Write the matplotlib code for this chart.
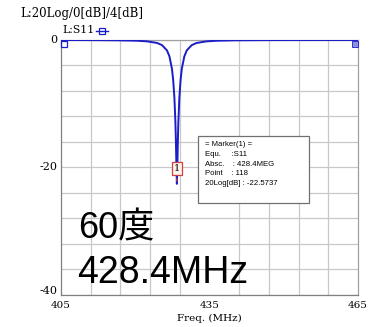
import matplotlib.pyplot as plt
from matplotlib.patches import FancyBboxPatch

# S11 trace (MHz, dB)
freq = [405, 410, 416.4, 420.4, 422.4, 424.4, 425.4, 426.4, 426.9, 427.4, 427.65,
        427.9, 428.1, 428.2, 428.3, 428.4, 428.5, 428.6, 428.7, 428.9, 429.15,
        429.4, 429.9, 430.4, 431.4, 432.4, 434.4, 436.4, 440.4, 448.4, 465]
s11_db = [-0.01, -0.02, -0.055, -0.12, -0.22, -0.47, -0.81, -1.64, -2.59, -4.5, -6.25,
          -9.07, -12.87, -15.77, -19.67, -22.57, -19.67, -15.77, -12.87, -9.07, -6.25,
          -4.5, -2.59, -1.64, -0.81, -0.47, -0.22, -0.12, -0.055, -0.02, -0.01]

mk_freq = 428.4
mk_db = -22.5737
mk_lines = ['= Marker(1) =', 'Equ.     :S11', 'Absc.    : 428.4MEG',
            'Point    : 118', '20Log[dB] : -22.5737']

xticks = [405, 435, 465]
yticks = [0, -20, -40]

serif = ['DejaVu Serif']
big = ['Liberation Sans', 'Noto Sans CJK JP']

fig = plt.figure(figsize=(3.7, 3.27), dpi=100)
ax = fig.add_axes([0.165, 0.098, 0.8027, 0.7798])

ax.plot(freq, s11_db, color='#1c1cc8', lw=1.4, zorder=3)
ax.set_xlim(405, 465)
ax.set_ylim(-40, 0)

# grid: 6 MHz / 4 dB per division
ax.set_xticks([405 + 6 * i for i in range(11)], minor=True)
ax.set_yticks([-4 * i for i in range(11)], minor=True)
ax.grid(which='minor', color='#c8c8c8', lw=0.9)
ax.set_xticks(xticks)
ax.set_xticklabels([str(v) for v in xticks], fontfamily=serif, fontsize=7.5)
ax.set_yticks([])
ax.tick_params(which='both', length=0)
ax.tick_params(axis='x', pad=4)
for s in ax.spines.values():
    s.set_color('#a0a0a0')
    s.set_linewidth(0.9)
ax.spines['left'].set_color('#808080')
ax.spines['bottom'].set_color('#808080')
ax.set_xlabel('Freq. (MHz)', fontfamily=serif, fontsize=7.5, labelpad=3)

# y labels drawn by hand (the bottom one sits a bit above the axis)
ylab_pos = [0, -20, -39.4]
for v, p in zip(yticks, ylab_pos):
    ax.text(-0.012, p, str(v), transform=ax.get_yaxis_transform(), ha='right',
            va='center', fontfamily=serif, fontsize=8)

# corner markers
ax.plot([405.6], [-0.6], marker='s', ms=4, mfc='none', mec='#1c1cc8', mew=0.9,
        clip_on=False, zorder=4)
ax.plot([464.4], [-0.6], marker='s', ms=4, mfc='#9090e0', mec='#1c1cc8', mew=0.6,
        clip_on=False, zorder=4)

# header texts
fig.text(20 / 370, 1 - 13 / 327, 'L:20Log/0[dB]/4[dB]', fontfamily=serif,
         fontsize=8.5, va='center')
fig.text(62 / 370, 1 - 30 / 327, 'L:S11', fontfamily=serif, fontsize=7.8, va='center')
fig.add_artist(plt.Line2D([96 / 370, 108 / 370], [1 - 31 / 327] * 2, color='#1c1cc8', lw=1))
fig.add_artist(plt.Rectangle((99 / 370, 1 - 34 / 327), 6 / 370, 6 / 327,
                             fill=False, ec='#1c1cc8', lw=0.9))

# marker 1 flag
ax.annotate('1', xy=(mk_freq, mk_db), xytext=(mk_freq, -20.2), ha='center', va='center',
            fontsize=7, fontfamily=serif,
            bbox=dict(boxstyle='square,pad=0.2', fc='#fff4ec', ec='#d04040', lw=0.9),
            arrowprops=dict(arrowstyle='-', color='#d04040', lw=0.9), zorder=5)

# marker info box
box = FancyBboxPatch((198 / 370, 1 - 203 / 327), 111 / 370, 67 / 327,
                     boxstyle='square,pad=0', transform=fig.transFigure,
                     fc='white', ec='#707070', lw=0.9, zorder=6)
fig.add_artist(box)
for i, t in enumerate(mk_lines):
    fig.text(205 / 370, 1 - (145 + i * 9.6) / 327, t, fontsize=5.6,
             family=['Liberation Sans'], va='center', zorder=7)

# big annotation
fig.text(78 / 370, 1 - 229 / 327, '60度', fontsize=26, family=big, va='center')
fig.text(77 / 370, 1 - 273 / 327, '428.4MHz', fontsize=27, family=big, va='center')

fig.savefig('out.png', dpi=100)
